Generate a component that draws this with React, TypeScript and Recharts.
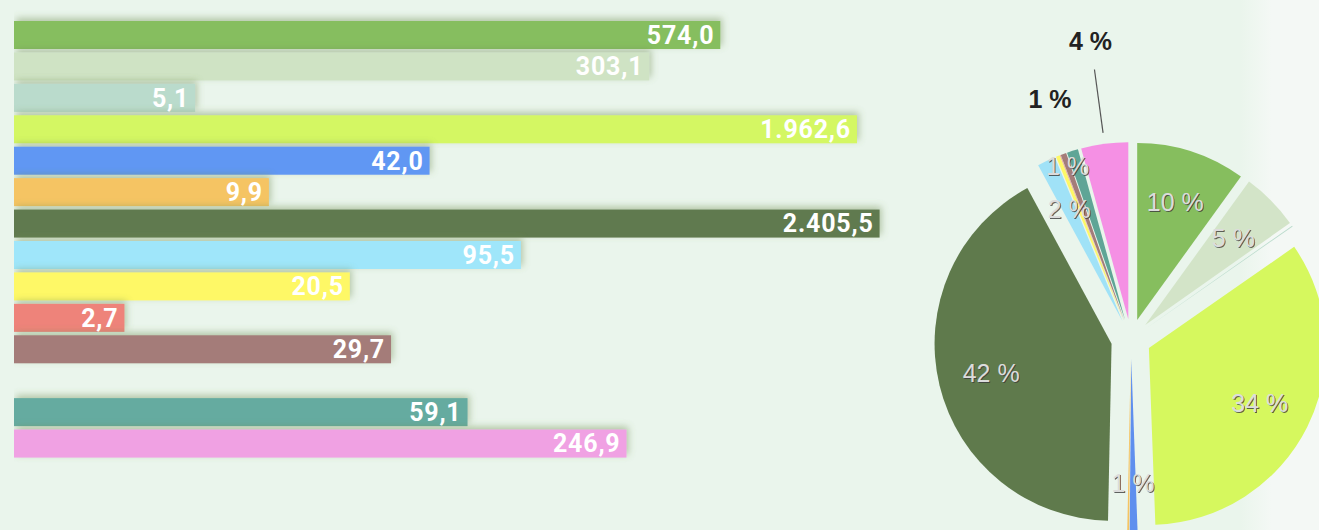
import React from 'react';
import { BarChart, Bar, XAxis, YAxis, Cell, LabelList, PieChart, Pie, Sector } from 'recharts';

const categories = ['K1', 'K2', 'K3', 'K4', 'K5', 'K6', 'K7', 'K8', 'K9', 'K10', 'K11', 'gap', 'K12', 'K13'];
const values: (number | null)[] = [574.0, 303.1, 5.1, 1962.6, 42.0, 9.9, 2405.5, 95.5, 20.5, 2.7, 29.7, null, 59.1, 246.9];
const colors = ['#86BE5E', '#CFE3C4', '#BADBCC', '#D4F763', '#6097F3', '#F5C463', '#607A50', '#9FE6FA', '#FEF866', '#EE837A', '#A47C79', 'transparent', '#65ABA0', '#F0A1E3'];
const pieColors = ['#86BE5E', '#D3E4C8', '#BADBCC', '#D6F85E', '#5F8FEE', '#F5C463', '#5F7A4C', '#A0E2F7', '#FEF866', '#EE837A', '#A47C79', 'transparent', '#5FA596', '#F590E4'];

const barData = categories.map((name, i) => ({ name, value: values[i], color: colors[i] }));
const pieData = categories
  .map((name, i) => ({ name, value: values[i], color: pieColors[i] }))
  .filter((d) => d.value !== null) as { name: string; value: number; color: string }[];

// label placement per slice (radius factor for inside labels, or outside spec)
const outsideLabels: Record<string, { r: number; tweak: number; line?: boolean }> = {
  K13: { r: 104, tweak: 0, line: true },
  K12: { r: 56, tweak: 1.5 },
};
const insideRadius: Record<string, number> = { K11: 0.93 };

const fmt = (v: any) => {
  if (v === null || v === undefined || v === '') return '';
  const [i, d] = Number(v).toFixed(1).split('.');
  return i.replace(/\B(?=(\d{3})+(?!\d))/g, '.') + ',' + d;
};

const EXPLODE = 20;
const RAD = Math.PI / 180;

const BarShape = (p: any) => {
  if (!p.width || p.width <= 0) return <g />;
  return <rect x={p.x} y={p.y} width={p.width} height={p.height} fill={p.fill} filter="url(#barShadow)" />;
};

const SliceShape = (p: any) => {
  const dx = EXPLODE * Math.cos(-p.midAngle * RAD);
  const dy = EXPLODE * Math.sin(-p.midAngle * RAD);
  return (
    <Sector
      cx={p.cx + dx}
      cy={p.cy + dy}
      innerRadius={0}
      outerRadius={p.outerRadius}
      startAngle={p.startAngle}
      endAngle={p.endAngle}
      fill={p.fill}
      stroke="none"
    />
  );
};

const renderPieLabel = (p: any) => {
  const { cx, cy, midAngle, outerRadius, percent, index } = p;
  const pct = Math.round(percent * 100);
  if (pct < 1) return null;
  const name = pieData[index]?.name;
  const cos = Math.cos(-midAngle * RAD);
  const sin = Math.sin(-midAngle * RAD);
  const ax = cx + EXPLODE * cos;
  const ay = cy + EXPLODE * sin;
  const out = outsideLabels[name];
  if (out) {
    const a = -(midAngle + out.tweak) * RAD;
    const tr = outerRadius + out.r;
    const tx = ax + tr * Math.cos(a);
    const ty = ay + tr * Math.sin(a);
    return (
      <g key={`l${index}`}>
        {out.line && (
          <line
            x1={ax + (outerRadius + 11) * cos}
            y1={ay + (outerRadius + 11) * sin}
            x2={ax + (outerRadius + 75) * cos}
            y2={ay + (outerRadius + 75) * sin}
            stroke="#555"
            strokeWidth={1.2}
          />
        )}
        <text x={tx} y={ty} textAnchor="middle" dominantBaseline="central" fontFamily="Liberation Sans, Arial, sans-serif" fontWeight="bold" fontSize={25} fill="#222">
          {pct} %
        </text>
      </g>
    );
  }
  const lr = outerRadius * (insideRadius[name] ?? 0.7);
  const x = ax + lr * cos;
  const y = ay + lr * sin;
  return (
    <g key={`l${index}`}>
      <text x={x + 1} y={y + 1} textAnchor="middle" dominantBaseline="central" fontFamily="Liberation Sans, Arial, sans-serif" fontSize={25} fill="#3c3c3c" opacity={0.8}>
        {pct} %
      </text>
      <text x={x} y={y} textAnchor="middle" dominantBaseline="central" fontFamily="Liberation Sans, Arial, sans-serif" fontSize={25} fill="#dcdcdc">
        {pct} %
      </text>
    </g>
  );
};

export default function App() {
  return (
    <div style={{ position: 'fixed', left: 0, top: 0, width: 1319, height: 530, background: '#EAF5EC', overflow: 'hidden' }}>
      <div style={{ position: 'absolute', left: 1240, top: 0, width: 79, height: 530, background: 'linear-gradient(90deg, rgba(244,248,245,0) 0%, rgba(244,248,245,1) 40%)' }} />
      <div style={{ position: 'absolute', left: 0, top: 0 }}>
        <BarChart
          width={1319}
          height={530}
          data={barData}
          layout="vertical"
          margin={{ top: 19, right: 281, bottom: 71, left: 14 }}
        >
          <defs>
            <filter id="barShadow" x="-10%" y="-60%" width="125%" height="220%">
              <feDropShadow dx="2" dy="-3" stdDeviation="3.5" floodColor="#6d8c4f" floodOpacity="0.45" />
            </filter>
          </defs>
          <XAxis type="number" scale="log" domain={[1, 10000]} allowDataOverflow hide />
          <YAxis type="category" dataKey="name" hide />
          <Bar dataKey="value" barSize={28} isAnimationActive={false} shape={BarShape}>
            {barData.map((d, i) => (
              <Cell key={i} fill={d.color} />
            ))}
            <LabelList
              dataKey="value"
              position="insideRight"
              offset={6}
              formatter={fmt}
              fill="#ffffff"
              fontFamily="Roboto, sans-serif"
              fontWeight="bold"
              fontSize={25}
              letterSpacing={0.8}
            />
          </Bar>
        </BarChart>
      </div>
      <div style={{ position: 'absolute', left: 0, top: 0 }}>
        <PieChart width={1319} height={530} margin={{ top: 0, right: 0, bottom: 0, left: 0 }}>
          <Pie
            data={pieData}
            dataKey="value"
            nameKey="name"
            cx={1131}
            cy={339}
            outerRadius={177}
            startAngle={90}
            endAngle={-270}
            stroke="none"
            isAnimationActive={false}
            shape={SliceShape}
            activeShape={SliceShape}
            inactiveShape={SliceShape}
            label={renderPieLabel}
            labelLine={false}
          >
            {pieData.map((d, i) => (
              <Cell key={i} fill={d.color} />
            ))}
          </Pie>
        </PieChart>
      </div>
    </div>
  );
}
